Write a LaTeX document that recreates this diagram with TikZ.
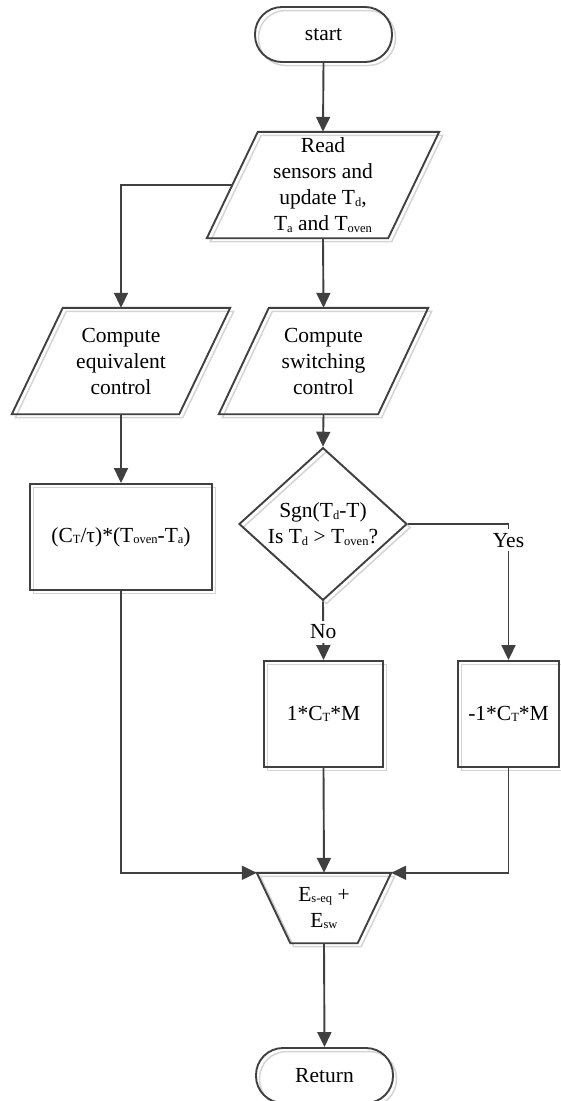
\documentclass[tikz,border=0pt]{standalone}
\usepackage{fontspec}
\setmainfont{Liberation Serif}
\usetikzlibrary{arrows.meta,shapes.geometric,calc}
\definecolor{ln}{HTML}{404040}
\definecolor{shd}{HTML}{D4D4D4}
\newcommand{\sbs}[1]{\raisebox{-1.5pt}{\fontsize{12.5}{12.5}\selectfont #1}}
\begin{document}
\begin{tikzpicture}[x=1pt,y=-1pt,
  every node/.style={font=\fontsize{21.5}{26}\selectfont, text=black, align=center, inner sep=0pt},
  shp/.style={draw=ln, line width=1.9pt,
    preaction={draw=shd, line width=1.5pt, transform canvas={shift={(3.5pt,-3.5pt)}}}},
  term/.style={shp, rectangle, rounded corners=27pt, minimum width=137pt, minimum height=55pt},
  proc/.style={shp, rectangle, minimum height=106pt},
  dec/.style={shp, diamond, minimum width=168pt, minimum height=132pt},
  conn/.style={draw=ln, line width=1.9pt, -{Triangle[length=15pt,width=14pt]}},
  lbl/.style={fill=white, inner sep=4pt}]
\useasboundingbox (0,0) rectangle (561,1101);

% nodes
\node[term] (start) at (323.5,34.5) {start};

\node[minimum width=232pt, minimum height=106pt] (read) at (323,185)
  {Read\\sensors and\\update T\sbs{d},\\T\sbs{a} and T\sbs{oven}};
\draw[shp] ([xshift=51pt]read.north west) -- (read.north east)
  -- ([xshift=-51pt]read.south east) -- (read.south west) -- cycle;

\node[minimum width=218pt, minimum height=106pt] (eq) at (121,361)
  {Compute\\equivalent\\control};
\draw[shp] ([xshift=51pt]eq.north west) -- (eq.north east)
  -- ([xshift=-51pt]eq.south east) -- (eq.south west) -- cycle;

\node[minimum width=209pt, minimum height=106pt] (sw) at (323.5,361)
  {Compute\\switching\\control};
\draw[shp] ([xshift=50pt]sw.north west) -- (sw.north east)
  -- ([xshift=-50pt]sw.south east) -- (sw.south west) -- cycle;

\node[proc, minimum width=182pt] (eqbox) at (121,537)
  {(C\sbs{T}/τ)*(T\sbs{oven}-T\sbs{a})};

\node[dec] (dia) at (323,524) {Sgn(T\sbs{d}-T)\\Is T\sbs{d} > T\sbs{oven}?};

\node[proc, minimum width=119pt] (pos) at (323.5,714) {1*C\sbs{T}*M};
\node[proc, minimum width=101pt] (neg) at (508.5,714) {-1*C\sbs{T}*M};

\node[minimum width=134pt, minimum height=70pt] (sum) at (324,908)
  {E\sbs{s-eq} +\\E\sbs{sw}};
\draw[shp] (sum.north west) -- (sum.north east)
  -- ([xshift=-33.5pt]sum.south east) -- ([xshift=33.5pt]sum.south west) -- cycle;

\node[term] (ret) at (324.5,1075.5) {Return};

% connectors
\coordinate (readL) at ($(read.west)+(25.5pt,0pt)$);
\draw[conn] (start.south) -- (read.north);
\draw[conn] (readL) -| (eq.north);
\draw[conn] (read.south) -- (sw.north);
\draw[conn] (eq.south) -- (eqbox.north);
\draw[conn] (sw.south) -- (dia.north);
\draw[conn] (dia.east) -| node[lbl, pos=0.56] {Yes} (neg.north);
\draw[conn] (dia.south) -- node[lbl, pos=0.52] {No} (pos.north);
\draw[conn] (eqbox.south) |- (sum.north west);
\draw[conn] (neg.south) |- (sum.north east);
\draw[conn] (pos.south) -- (sum.north);
\draw[conn] (sum.south) -- (ret.north);
\end{tikzpicture}
\end{document}
